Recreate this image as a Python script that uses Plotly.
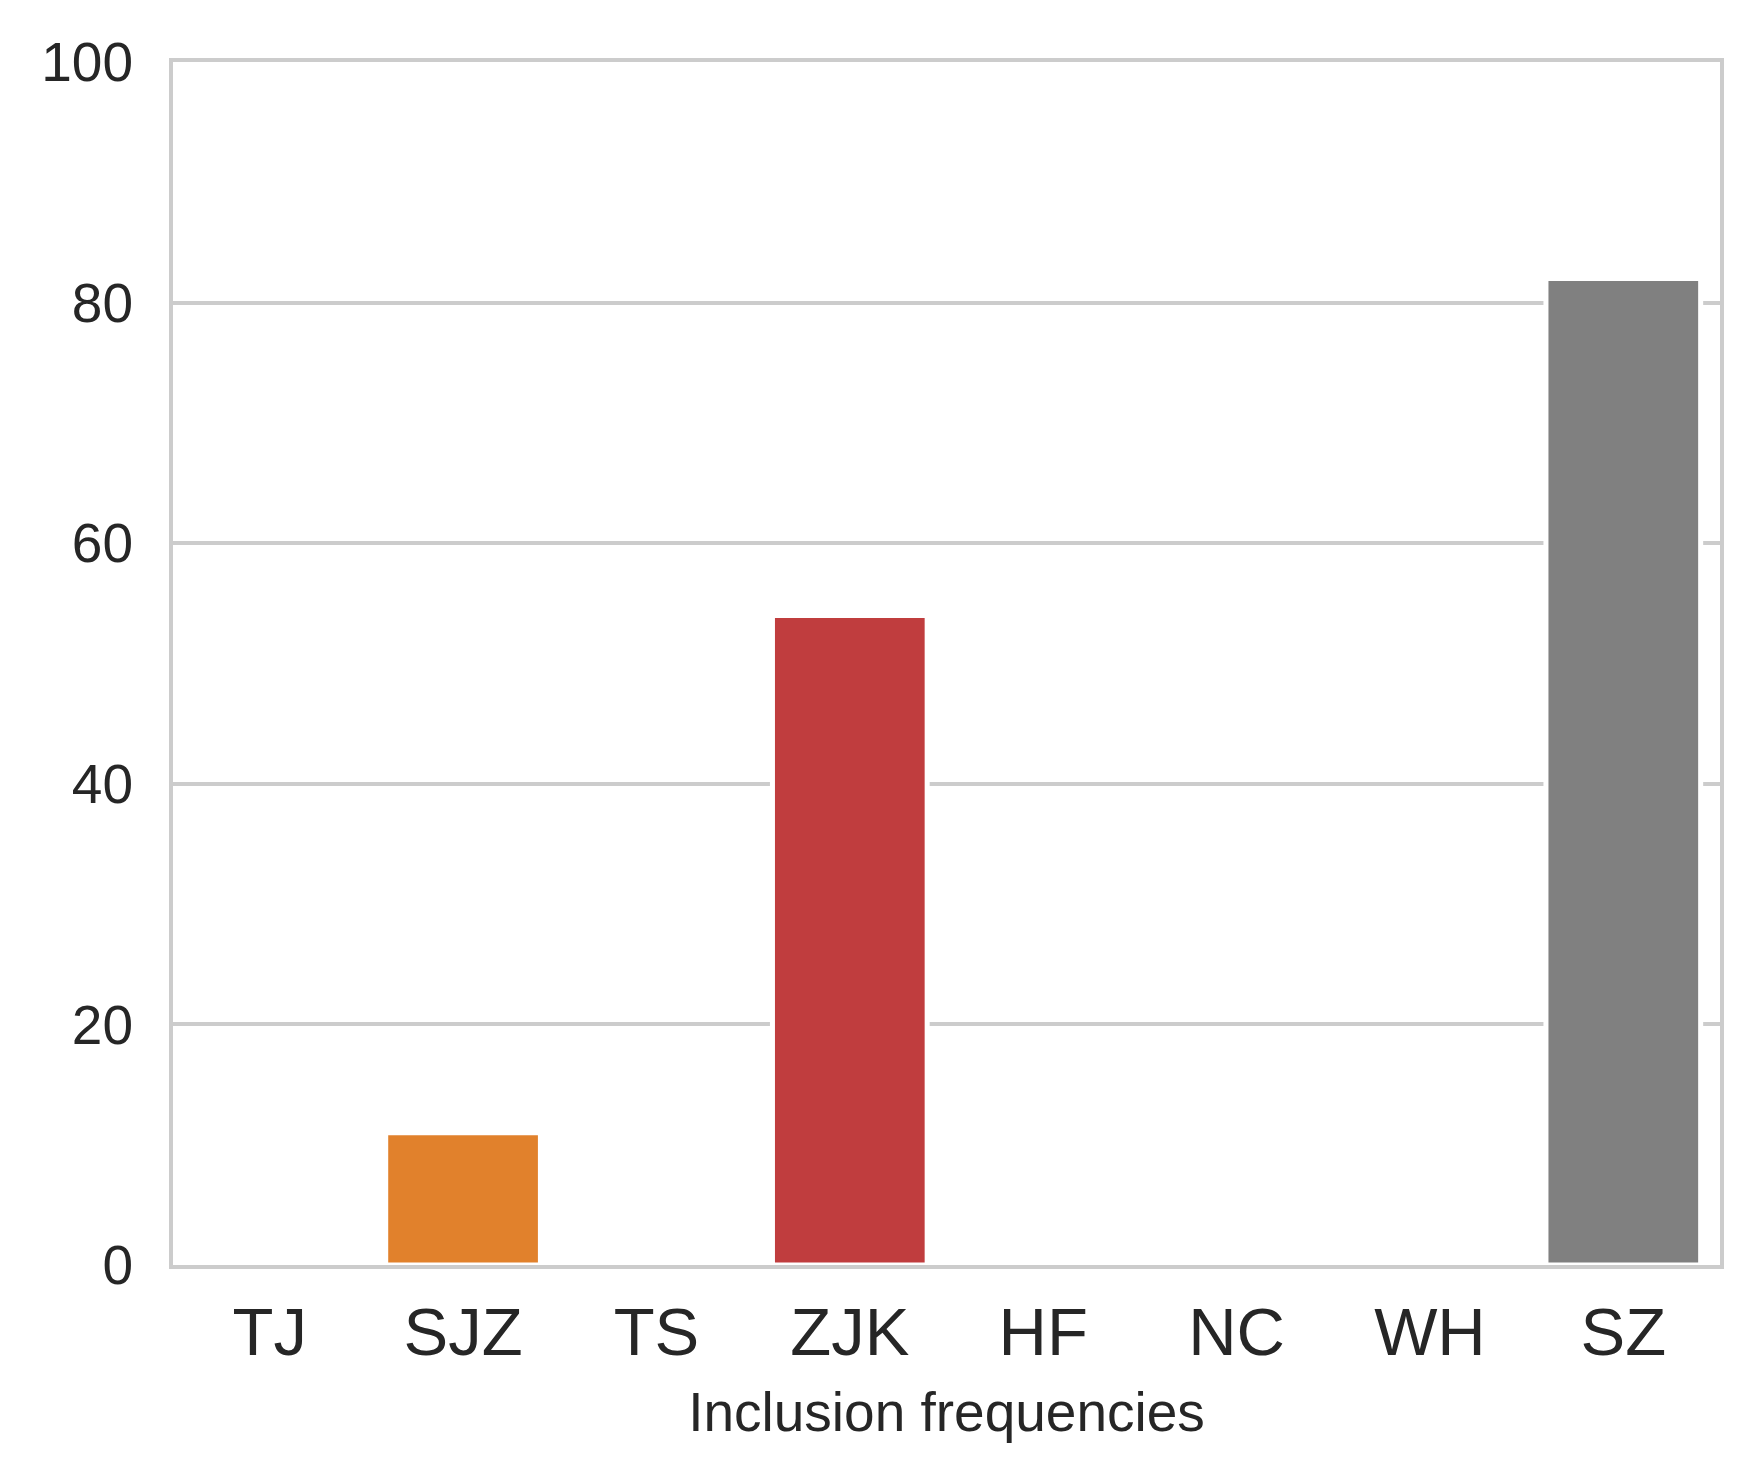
import plotly.graph_objects as go

cities = ["TJ", "SJZ", "TS", "ZJK", "HF", "NC", "WH", "SZ"]
inclusion_freq = [0, 11, 0, 54, 0, 0, 0, 82]
# seaborn default palette (desaturated tab10), one colour per city
bar_colors = ["#3274a1", "#e1812c", "#3a923a", "#c03d3e",
              "#9372b2", "#845b53", "#d684bd", "#808080"]
y_ticks = [0, 20, 40, 60, 80, 100]

FONT = "Liberation Sans, Arial, sans-serif"
TEXT = "#262626"
GRID = "#cccccc"

fig = go.Figure()

fig.add_trace(
    go.Bar(
        x=cities,
        y=inclusion_freq,
        width=0.8,
        marker=dict(color=bar_colors, line=dict(color="white", width=5)),
        showlegend=False,
    )
)

# page body adds a small offset, margins account for it
fig.update_layout(
    width=1761,
    height=1480,
    plot_bgcolor="white",
    paper_bgcolor="white",
    margin=dict(l=165, r=49, t=54, b=223),
    font=dict(family=FONT, color=TEXT),
    bargap=0.2,
    xaxis=dict(
        title=dict(text="Inclusion frequencies", font=dict(size=55, color=TEXT), standoff=25),
        tickfont=dict(size=67, color=TEXT),
        showgrid=False,
        showline=True,
        mirror=True,
        linecolor=GRID,
        linewidth=4,
        ticks="",
        ticklabelstandoff=6,
        automargin=False,
    ),
    yaxis=dict(
        range=[0, 100],
        tickvals=y_ticks,
        tickfont=dict(size=55, color=TEXT),
        showgrid=True,
        gridcolor=GRID,
        gridwidth=4,
        zeroline=False,
        showline=True,
        mirror=True,
        linecolor=GRID,
        linewidth=4,
        ticks="",
        ticklabelstandoff=25,
        automargin=False,
    ),
)

fig.write_html("out.html")
